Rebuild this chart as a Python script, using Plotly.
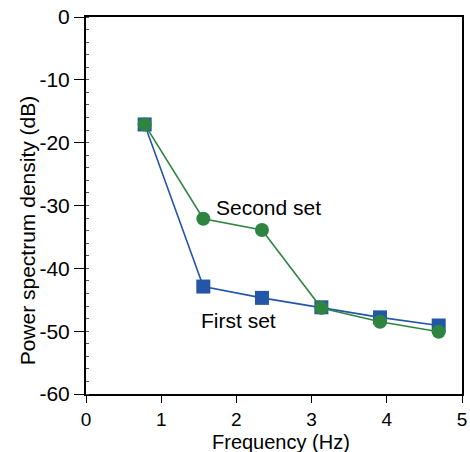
import plotly.graph_objects as go

freq = [0.78, 1.56, 2.34, 3.13, 3.91, 4.69]
first_set = [-17.1, -42.9, -44.7, -46.2, -47.8, -49.1]
second_set = [-17.1, -32.1, -33.9, -46.3, -48.5, -50.1]
x_ticks = [0, 1, 2, 3, 4, 5]
y_ticks = [0, -10, -20, -30, -40, -50, -60]
y_tick_text = ["0", "-10", "-20", "-30", "-40", "-50", "-60"]

blue = "#2456A8"
green = "#2E8540"
font = "Liberation Sans, Arial, Helvetica, sans-serif"
fs = 21

fig = go.Figure()
fig.add_trace(go.Scatter(x=freq, y=first_set, mode="lines+markers", name="First set",
                         line=dict(color=blue, width=1.6),
                         marker=dict(symbol="square", size=14, color=blue)))
fig.add_trace(go.Scatter(x=freq, y=second_set, mode="lines+markers", name="Second set",
                         line=dict(color=green, width=1.6),
                         marker=dict(symbol="circle", size=14, color=green)))

fig.add_annotation(x=2.43, y=-30.3, text="Second set", showarrow=False,
                   font=dict(size=fs, color="black", family=font))
fig.add_annotation(x=2.03, y=-48.3, text="First set", showarrow=False,
                   font=dict(size=fs, color="black", family=font))

# axis titles
fig.add_annotation(xref="paper", yref="paper", x=0.519, y=-0.126, text="Frequency (Hz)",
                   showarrow=False, xanchor="center", yanchor="middle",
                   font=dict(size=20, color="black", family=font))
fig.add_annotation(xref="paper", yref="paper", x=-0.157, y=0.434,
                   text="Power spectrum density (dB)", textangle=-90,
                   showarrow=False, xanchor="center", yanchor="middle",
                   font=dict(size=fs, color="black", family=font))

fig.update_layout(
    width=470, height=452,
    margin=dict(l=86, r=8, t=17, b=58),
    paper_bgcolor="white", plot_bgcolor="white",
    showlegend=False,
    font=dict(family=font, size=fs, color="black"),
    xaxis=dict(range=[0, 5], tickvals=x_ticks, ticks="outside", ticklen=7, tickwidth=1,
               tickcolor="black", showline=True, linecolor="black", linewidth=2,
               mirror=True, showgrid=False, zeroline=False, automargin=False,
               tickfont=dict(size=19)),
    yaxis=dict(range=[-60, 0], tickvals=y_ticks, ticktext=y_tick_text, ticks="outside",
               ticklen=10, tickwidth=1,
               tickcolor="black", showline=True, linecolor="black", linewidth=2,
               mirror=True, showgrid=False, zeroline=False, automargin=False,
               minor=dict(ticks="inside", ticklen=3, tickcolor="#555", dtick=2, showgrid=False),
               tickfont=dict(size=fs)),
)

fig.write_html("out.html")
